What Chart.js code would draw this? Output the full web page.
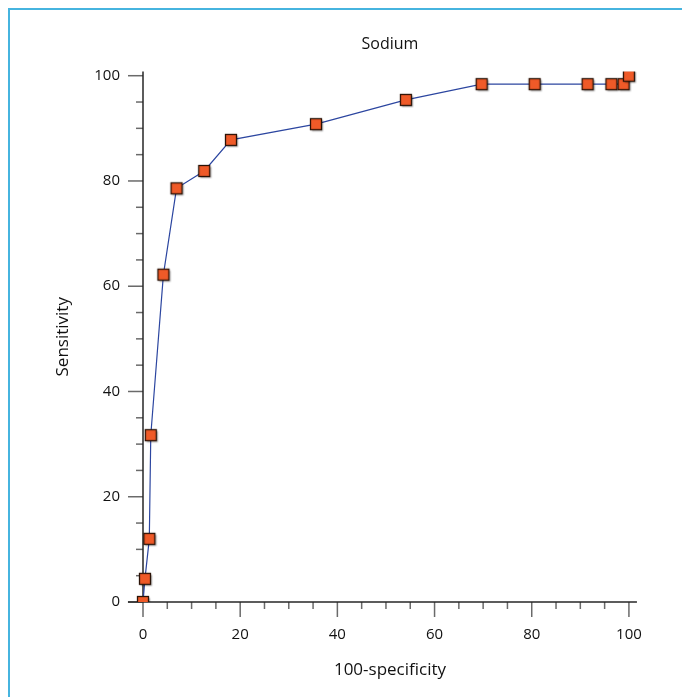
<!DOCTYPE html>
<html><head><meta charset="utf-8">
<script src="https://cdn.jsdelivr.net/npm/chart.js@4"></script>
<style>
html,body{margin:0;padding:0;background:#fff;overflow:hidden}
#wrap{position:relative;width:682px;height:697px}
#frame{position:absolute;left:8px;top:8px;width:720px;height:720px;border-top:2px solid #46B4DF;border-left:2px solid #46B4DF;pointer-events:none}
canvas{position:absolute;left:0;top:0}
</style></head><body>
<div id="wrap"><div id="frame"></div><canvas id="c" width="682" height="697"></canvas></div>
<script>
// ---- data ----
const specificity100 = [0, 0.4, 1.3, 1.6, 4.2, 6.9, 12.6, 18.1, 35.6, 54.1, 69.7, 80.6, 91.5, 96.4, 98.9, 100];
const sensitivity    = [0, 4.4, 12.0, 31.7, 62.2, 78.6, 81.9, 87.8, 90.8, 95.4, 98.4, 98.4, 98.4, 98.4, 98.4, 100];
const xTickValues = [0, 20, 40, 60, 80, 100];
const yTickValues = [0, 20, 40, 60, 80, 100];
const minorStep = 5;
const chartTitle = 'Sodium';
const xTitle = '100-specificity';
const yTitle = 'Sensitivity';

// ---- style ----
const FONT = "'Open Sans', 'Noto Sans', sans-serif";
const TEXT = '#111111';
const xAxisLineFrom = -3.1, xAxisLineTo = 101.65;

function makeMarker(){
  const s = 20, c = document.createElement('canvas');
  c.width = s; c.height = s;
  const g = c.getContext('2d');
  const side = 11, o = 4.5;
  g.shadowColor = 'rgba(0,0,0,0.38)';
  g.shadowOffsetX = 1.5; g.shadowOffsetY = 1.5; g.shadowBlur = 1.5;
  g.fillStyle = '#EF5A28';
  g.fillRect(o, o, side, side);
  g.shadowColor = 'transparent';
  g.lineWidth = 1.3; g.strokeStyle = '#2a1206';
  g.strokeRect(o, o, side, side);
  return c;
}

const axesPlugin = {
  id: 'customAxes',
  beforeDatasetsDraw(chart){
    const {ctx, chartArea: a, scales: {x, y}} = chart;
    const x0 = x.getPixelForValue(0), y0 = y.getPixelForValue(0);
    const seg = (x1,y1,x2,y2)=>{ctx.beginPath();ctx.moveTo(x1,y1);ctx.lineTo(x2,y2);ctx.stroke();};
    ctx.save();
    ctx.strokeStyle = '#6a6a6a'; ctx.lineWidth = 1.5;
    for (let v = 0; v <= 100; v += minorStep){
      const len = (v % 20 === 0) ? 15 : 7;
      const px = x.getPixelForValue(v);
      seg(px, y0, px, y0 + len);
      const py = y.getPixelForValue(v);
      seg(x0, py, x0 - len, py);
    }
    ctx.strokeStyle = '#262626'; ctx.lineWidth = 1.5;
    seg(x.getPixelForValue(xAxisLineFrom), y0, x.getPixelForValue(xAxisLineTo), y0);
    seg(x0, a.top, x0, y0);
    ctx.restore();
  }
};

const points = specificity100.map((v, i) => ({x: v, y: sensitivity[i]}));

new Chart(document.getElementById('c'), {
  type: 'scatter',
  data: { datasets: [{
    data: points,
    showLine: true,
    borderColor: '#2C46A0',
    borderWidth: 1.2,
    tension: 0,
    pointStyle: makeMarker(),
    pointRadius: 6,
    pointHoverRadius: 6
  }]},
  options: {
    responsive: false,
    animation: false,
    devicePixelRatio: 1,
    layout: { padding: { left: 0, right: 30, top: 0, bottom: 0 } },
    plugins: {
      legend: { display: false },
      tooltip: { enabled: false },
      title: {
        display: true, text: chartTitle, fullSize: false,
        color: TEXT, font: { family: FONT, size: 16, weight: 'normal', lineHeight: 1.2 },
        padding: { top: 34.4, bottom: 17.9 }
      }
    },
    scales: {
      x: {
        type: 'linear', min: -3.087, max: 104.75,
        afterBuildTicks: s => { s.ticks = xTickValues.map(v => ({value: v})); },
        afterFit: s => { s.height = 95; },
        grid: { display: false, drawTicks: false },
        border: { display: false },
        ticks: { color: TEXT, font: { family: FONT, size: 15 }, padding: 24, autoSkip: false, maxRotation: 0, callback: v => String(v) },
        title: { display: true, text: xTitle, color: TEXT, font: { family: FONT, size: 17, lineHeight: 1.2 }, padding: { top: 0, bottom: 16.8 } }
      },
      y: {
        type: 'linear', min: 0, max: 100.8,
        afterBuildTicks: s => { s.ticks = yTickValues.map(v => ({value: v})); },
        afterFit: s => { s.width = 128; },
        grid: { display: false, drawTicks: false },
        border: { display: false },
        ticks: { color: TEXT, font: { family: FONT, size: 15 }, padding: 8, autoSkip: false, callback: v => String(v) },
        title: { display: true, text: yTitle, color: TEXT, font: { family: FONT, size: 17, lineHeight: 1.2 }, padding: { top: 52.8, bottom: 0 } }
      }
    }
  },
  plugins: [axesPlugin]
});
</script>
</body></html>
